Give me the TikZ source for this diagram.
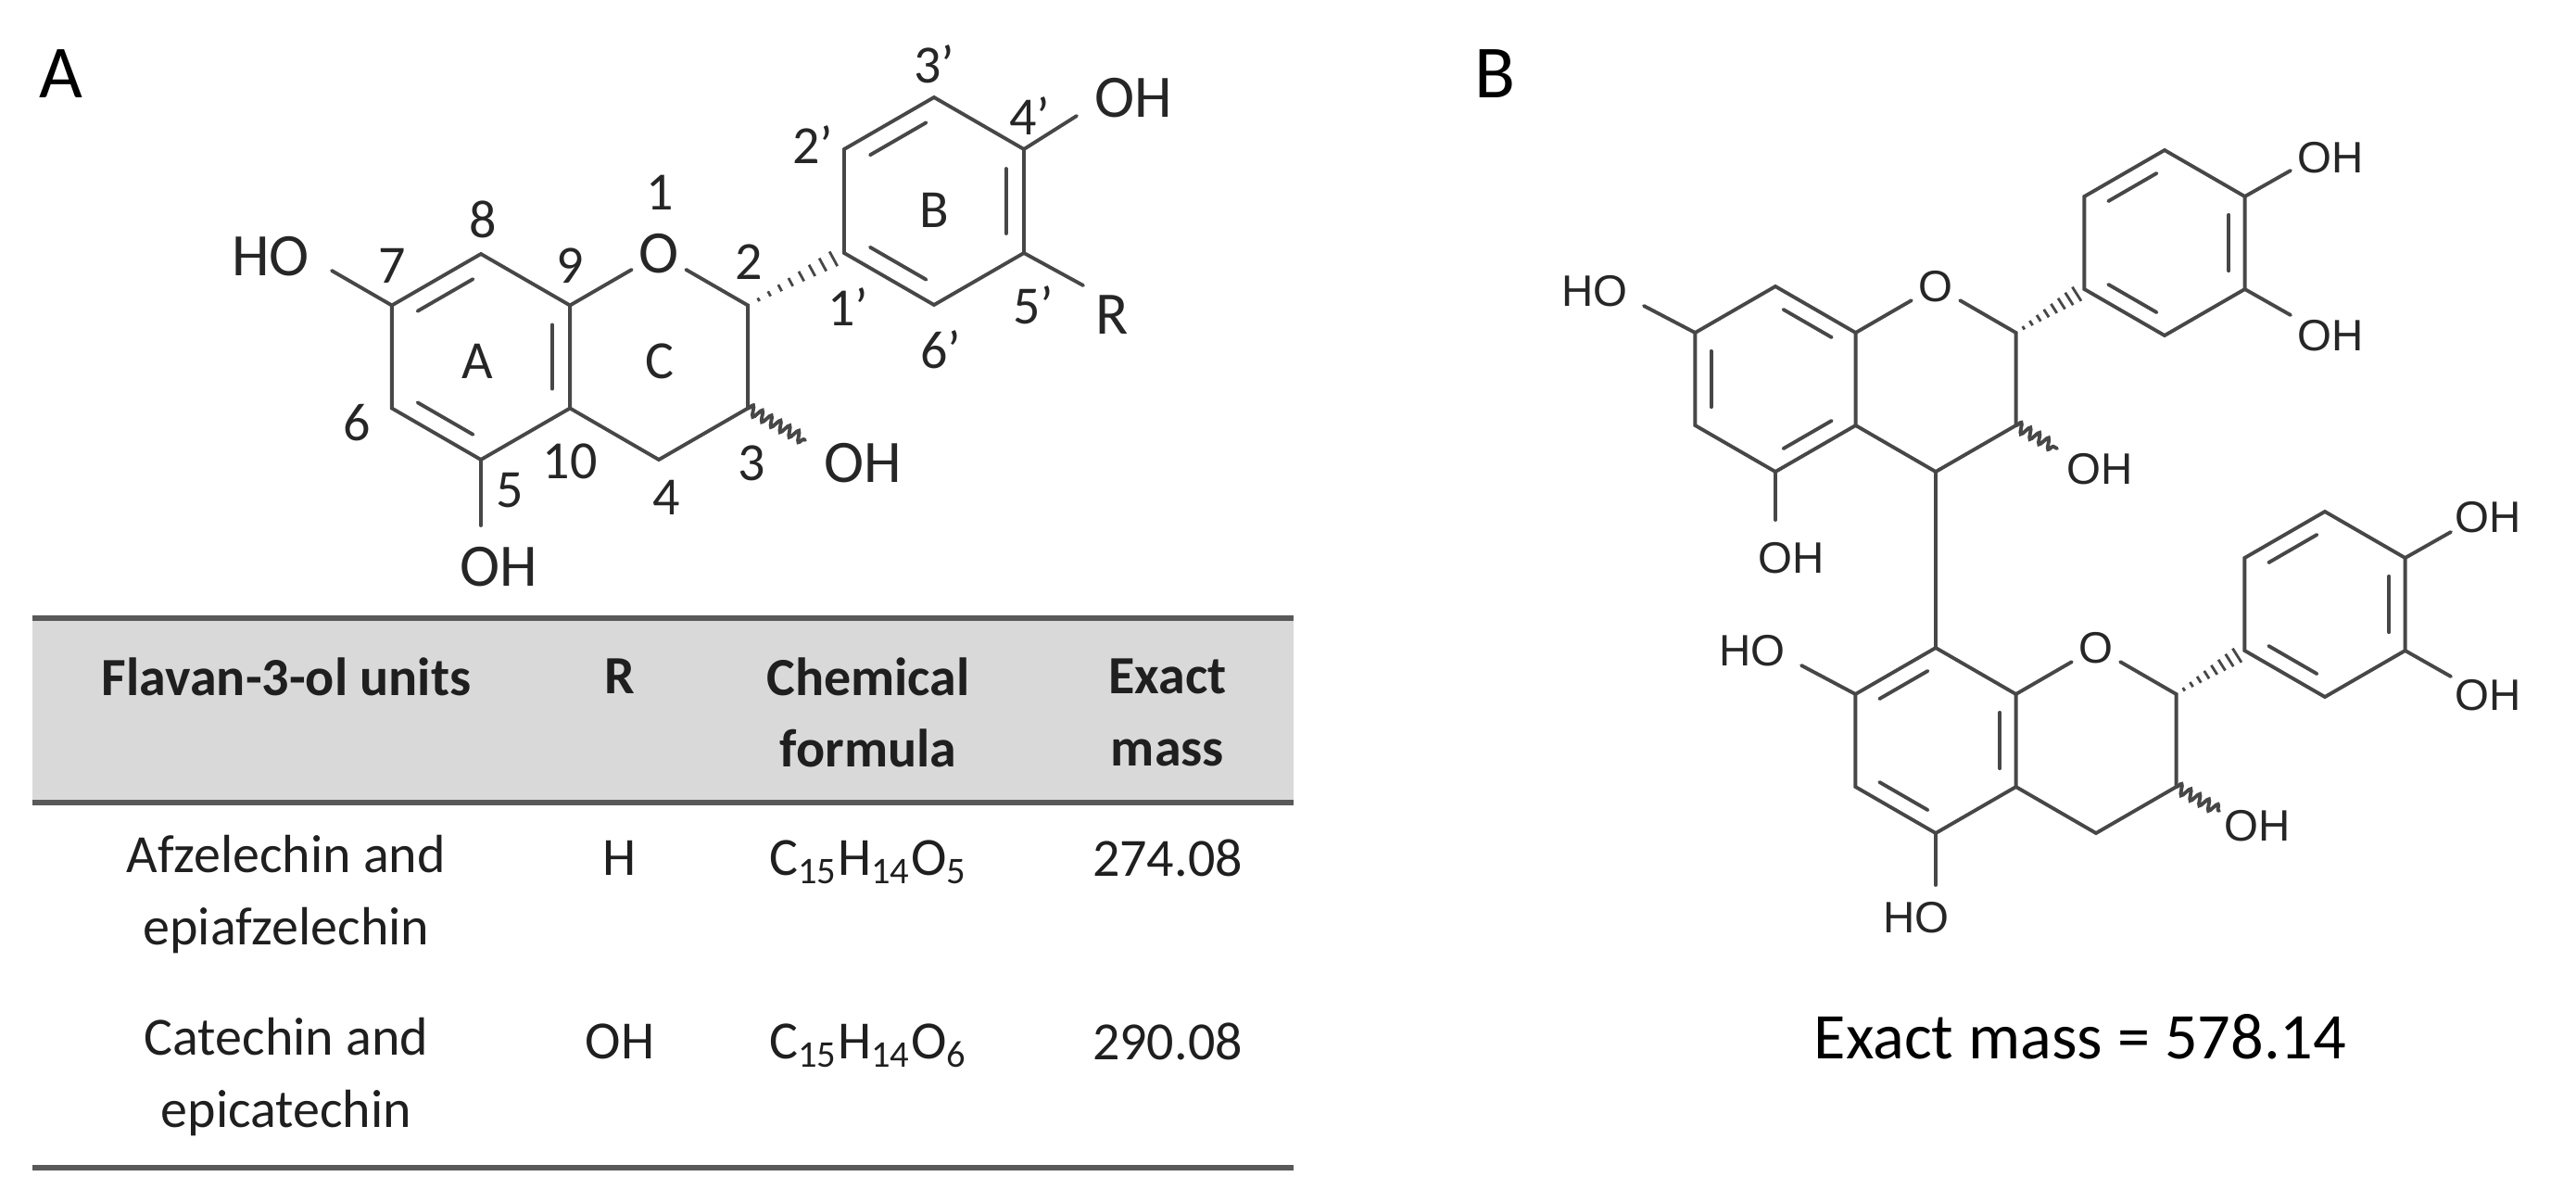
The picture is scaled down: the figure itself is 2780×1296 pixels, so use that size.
\documentclass[tikz,border=0pt]{standalone}
\usepackage{fontspec}
\setmainfont{Carlito}
\newfontfamily\arialf{Liberation Sans}
\usetikzlibrary{calc,decorations.pathmorphing}
\newcommand\hexa[4]{%
 \coordinate (#11) at (#2,#3-#4);
 \coordinate (#12) at (#2+0.866*#4,#3-0.5*#4);
 \coordinate (#13) at (#2+0.866*#4,#3+0.5*#4);
 \coordinate (#14) at (#2,#3+#4);
 \coordinate (#15) at (#2-0.866*#4,#3+0.5*#4);
 \coordinate (#16) at (#2-0.866*#4,#3-0.5*#4);
 \coordinate (#1c) at (#2,#3);}
\newcommand\inner[3]{\draw[bond,shorten <=2.8pt,shorten >=2.8pt] ($(#1c)!0.8!(#2)$) -- ($(#1c)!0.8!(#3)$);}
\newcommand\hashb[2]{\foreach \i in {0,...,9}{%
 \pgfmathsetmacro\hwid{0.3+\i*0.28}
 \pgfmathsetmacro\hfr{\i/9}
 \coordinate (hm) at ($(#1)!\hfr!(#2)$);
 \draw[hashl] ($(hm)!\hwid pt!90:(#2)$) -- ($(hm)!\hwid pt!-90:(#2)$);}}
\tikzset{
 bond/.style={draw=black!72, line width=1.1pt, line cap=round},
 hashl/.style={draw=black!72, line width=0.8pt},
 wavy/.style={bond, decorate, decoration={snake,amplitude=1.6pt,segment length=3.2pt}},
 numl/.style={font=\fontsize{16.5}{18}\selectfont, text=black!85, inner sep=0pt},
 atomA/.style={font=\fontsize{18.5}{20}\selectfont, text=black!85, inner sep=0pt},
 atomB/.style={font=\arialf\fontsize{13.5}{15}\selectfont, text=black!85, inner sep=0pt},
 tab/.style={font=\fontsize{16.5}{22}\selectfont, align=center, text=black!88, inner sep=0pt},
 tabh/.style={tab, font=\bfseries\fontsize{16.5}{22}\selectfont},
 rule/.style={draw=black!65, line width=1.5pt},
 plab/.style={font=\fontsize{23}{26}\selectfont, inner sep=0pt}
}
\begin{document}
\begin{tikzpicture}[x=0.01cm,y=-0.01cm]
\useasboundingbox (0,0) rectangle (2780,1296);
\node[plab] (labA) at (66,80) {A};
\node[plab] (labB) at (1613,80) {B};
% ---------- Panel A structure
\hexa{a}{519}{385}{111}
\hexa{c}{711}{385}{111}
\hexa{b}{1008}{217}{112}
\node[atomA, inner sep=2pt] (O1) at (c1) {O};
\draw[bond] (a2) -- (a1) -- (a6) -- (a5) -- (a4) -- (a3) -- cycle;
\draw[bond] (a2) -- (O1) -- (c2) -- (c3) -- (c4) -- (a3);
\draw[bond] (b1) -- (b2) -- (b3) -- (b4) -- (b5) -- (b6) -- cycle;
\inner{a}{a6}{a1} \inner{a}{a2}{a3} \inner{a}{a4}{a5}
\inner{b}{b6}{b1} \inner{b}{b2}{b3} \inner{b}{b4}{b5}
\hashb{c2}{b5}
\coordinate (eHO7) at (358,292);
\coordinate (eOH5) at (519,567);
\coordinate (eOH3) at (869,475);
\coordinate (eOH4p) at (1162,125);
\coordinate (eR) at (1169,308);
\draw[bond] (a6) -- (eHO7);
\draw[bond] (a4) -- (eOH5);
\draw[wavy] (c3) -- (eOH3);
\draw[bond] (b2) -- (eOH4p);
\draw[bond] (b3) -- (eR);
\node[atomA] (tHO7) at (292,277) {HO};
\node[atomA] (tOH5) at (538,612) {OH};
\node[atomA] (tOH3) at (931,500) {OH};
\node[atomA] (tOH4p) at (1223,106) {OH};
\node[atomA] (tR) at (1200,340) {R};
\node[numl] (n8) at (521,237) {8};
\node[numl] (n7) at (423,287) {7};
\node[numl] (n1) at (712,208) {1};
\node[numl] (n9) at (615,287) {9};
\node[numl] (n2) at (808,283) {2};
\node[numl] (n2p) at (877,156) {2’};
\node[numl] (n3p) at (1008,69) {3’};
\node[numl] (n4p) at (1111,125) {4’};
\node[numl] (nB) at (1008,227) {B};
\node[numl] (nA) at (515,390) {A};
\node[numl] (nC) at (712,390) {C};
\node[numl] (n1p) at (915,331) {1’};
\node[numl] (n5p) at (1115,329) {5’};
\node[numl] (n6p) at (1015,377) {6’};
\node[numl] (n6) at (385,456) {6};
\node[numl] (n10) at (615,498) {10};
\node[numl] (n3) at (811,500) {3};
\node[numl] (n5) at (550,529) {5};
\node[numl] (n4) at (719,537) {4};
% ---------- Table
\fill[black!15] (35,667) rectangle (1396,866);
\draw[rule] (35,667) -- (1396,667);
\draw[rule] (35,866) -- (1396,866);
\draw[rule] (35,1260) -- (1396,1260);
\node[tabh] (h1) at (309,730) {Flavan-3-ol units};
\node[tabh] (h2) at (669,730) {R};
\node[tabh] (h3) at (937,769) {Chemical\\formula};
\node[tabh] (h4) at (1260,769) {Exact\\mass};
\node[tab] (r11) at (309,965) {Afzelechin and\\epiafzelechin};
\node[tab] (r12) at (669,926) {H};
\node[tab] (r13) at (937,930) {C\textsubscript{15}H\textsubscript{14}O\textsubscript{5}};
\node[tab] (r14) at (1260,926) {274.08};
\node[tab] (r21) at (309,1162) {Catechin and\\epicatechin};
\node[tab] (r22) at (669,1124) {OH};
\node[tab] (r23) at (937,1128) {C\textsubscript{15}H\textsubscript{14}O\textsubscript{6}};
\node[tab] (r24) at (1260,1124) {290.08};
% ---------- Panel B structure, upper unit
\hexa{p}{1916}{409}{100}
\hexa{q}{2089}{409}{100}
\hexa{r}{2336}{262}{100}
\node[atomB, inner sep=2pt] (O2) at (q1) {O};
\draw[bond] (p2) -- (p1) -- (p6) -- (p5) -- (p4) -- (p3) -- cycle;
\draw[bond] (p2) -- (O2) -- (q2) -- (q3) -- (q4) -- (p3);
\draw[bond] (r1) -- (r2) -- (r3) -- (r4) -- (r5) -- (r6) -- cycle;
\inner{p}{p1}{p2} \inner{p}{p5}{p6} \inner{p}{p3}{p4}
\inner{r}{r6}{r1} \inner{r}{r2}{r3} \inner{r}{r4}{r5}
\hashb{q2}{r5}
\coordinate (eu7) at (1774,330);
\coordinate (eu5) at (1916,561);
\coordinate (eu3) at (2220,484);
\coordinate (eu4p) at (2472,184);
\coordinate (eu3p) at (2472,340);
\draw[bond] (p6) -- (eu7);
\draw[bond] (p4) -- (eu5);
\draw[wavy] (q3) -- (eu3);
\draw[bond] (r2) -- (eu4p);
\draw[bond] (r3) -- (eu3p);
\node[atomB] (tu7) at (1721,314) {HO};
\node[atomB] (tu5) at (1933,602) {OH};
\node[atomB] (tu3) at (2266,506) {OH};
\node[atomB] (tu4p) at (2515,170) {OH};
\node[atomB] (tu3p) at (2515,362) {OH};
% lower unit
\hexa{s}{2089}{799}{100}
\hexa{t}{2262}{799}{100}
\hexa{u}{2509}{652}{100}
\node[atomB, inner sep=2pt] (O3) at (t1) {O};
\draw[bond] (s2) -- (s1) -- (s6) -- (s5) -- (s4) -- (s3) -- cycle;
\draw[bond] (s2) -- (O3) -- (t2) -- (t3) -- (t4) -- (s3);
\draw[bond] (u1) -- (u2) -- (u3) -- (u4) -- (u5) -- (u6) -- cycle;
\inner{s}{s6}{s1} \inner{s}{s2}{s3} \inner{s}{s4}{s5}
\inner{u}{u6}{u1} \inner{u}{u2}{u3} \inner{u}{u4}{u5}
\hashb{t2}{u5}
\draw[bond] (q4) -- (s1);
\coordinate (el7) at (1944,718);
\coordinate (el5) at (2089,955);
\coordinate (el3) at (2395,875);
\coordinate (el4p) at (2645,574);
\coordinate (el3p) at (2645,730);
\draw[bond] (s6) -- (el7);
\draw[bond] (s4) -- (el5);
\draw[wavy] (t3) -- (el3);
\draw[bond] (u2) -- (el4p);
\draw[bond] (u3) -- (el3p);
\node[atomB] (tl7) at (1891,702) {HO};
\node[atomB] (tl5) at (2068,990) {HO};
\node[atomB] (tl3) at (2436,891) {OH};
\node[atomB] (tl4p) at (2685,558) {OH};
\node[atomB] (tl3p) at (2685,750) {OH};
\node[font=\fontsize{20}{24}\selectfont, inner sep=0pt] (mass) at (2245,1119) {Exact mass = 578.14};
\end{tikzpicture}
\end{document}
